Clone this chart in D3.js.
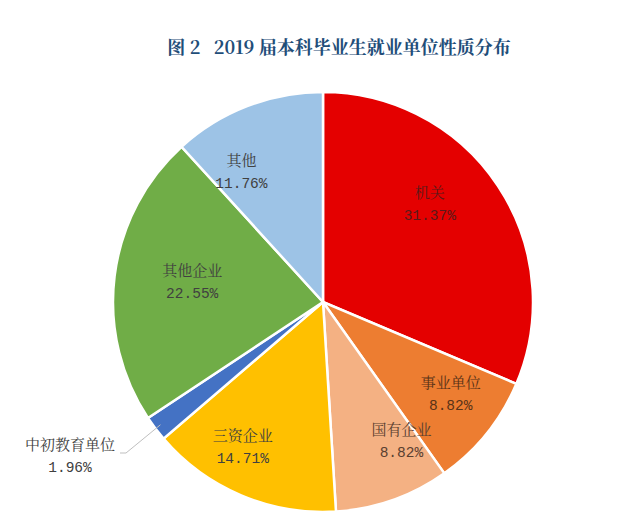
<!DOCTYPE html>
<html>
<head>
<meta charset="utf-8">
<script src="https://cdn.jsdelivr.net/npm/d3@7"></script>
<style>
  body { margin: 0; background: #fff; }
  text { font-family: "Noto Serif CJK SC", "Noto Sans CJK SC", serif; }
</style>
</head>
<body>
<div id="chart"></div>
<script>
// data
var categories = ["机关", "事业单位", "国有企业", "三资企业", "中初教育单位", "其他企业", "其他"];
var shares = [31.37, 8.82, 8.82, 14.71, 1.96, 22.55, 11.76];
var colors = ["#E40000", "#ED7D31", "#F4B183", "#FFC000", "#4472C4", "#70AD47", "#9DC3E6"];

var width = 640, height = 521;
var cx = 323, cy = 302, radius = 210;

var svg = d3.select("#chart").append("svg")
    .attr("width", width)
    .attr("height", height);

svg.append("text")
    .attr("x", 339)
    .attr("y", 54)
    .attr("text-anchor", "middle")
    .attr("xml:space", "preserve")
    .style("white-space", "pre")
    .style("font-size", "18px")
    .style("font-weight", "bold")
    .style("fill", "#1F4E79")
    .text("图 2   2019 届本科毕业生就业单位性质分布");

var pie = d3.pie().sort(null).value(function (d) { return d; });
var arcs = pie(shares);

var arc = d3.arc().innerRadius(0).outerRadius(radius);

var g = svg.append("g")
    .attr("transform", "translate(" + cx + "," + cy + ")");

g.selectAll("path")
    .data(arcs)
    .enter().append("path")
    .attr("d", arc)
    .style("fill", function (d, i) { return colors[i]; })
    .style("stroke", "#fff")
    .style("stroke-width", "2.5px");

// label placement: shift from the slice's middle angle (deg) and fraction of radius
var labelShift = [-9, -3, -10, 6, 0, 1.5, -11];
var labelR = [0.69, 0.75, 0.76, 0.79, 0, 0.63, 0.73];
var labelColor = ["#5a1a1a", "#5a3318", "#5a4030", "#404040", "#404040", "#404040", "#404040"];

arcs.forEach(function (d, i) {
    var x, y;
    if (categories[i] === "中初教育单位") {
        x = 70 - cx; y = 456 - cy;
    } else {
        var a = (d.startAngle + d.endAngle) / 2 + labelShift[i] * Math.PI / 180;
        x = Math.sin(a) * radius * labelR[i];
        y = -Math.cos(a) * radius * labelR[i];
    }
    var t = g.append("text")
        .attr("text-anchor", "middle")
        .style("font-size", "15px")
        .style("fill", labelColor[i]);
    t.append("tspan").attr("x", x).attr("y", y - 6).text(categories[i]);
    t.append("tspan").attr("x", x).attr("y", y + 16)
        .style("font-family", "'Liberation Mono', monospace")
        .style("font-size", "14.5px")
        .text(shares[i].toFixed(2) + "%");
});

// leader line for the small slice
var small = arcs[4];
var mid = (small.startAngle + small.endAngle) / 2;
var px = Math.sin(mid) * radius * 0.97, py = -Math.cos(mid) * radius * 0.97;
g.append("polyline")
    .attr("points", [[120 - cx, 453 - cy], [126 - cx, 453 - cy], [px, py]].map(function (p) { return p.join(","); }).join(" "))
    .style("fill", "none")
    .style("stroke", "#bfbfbf")
    .style("stroke-width", "1px");
</script>
</body>
</html>
